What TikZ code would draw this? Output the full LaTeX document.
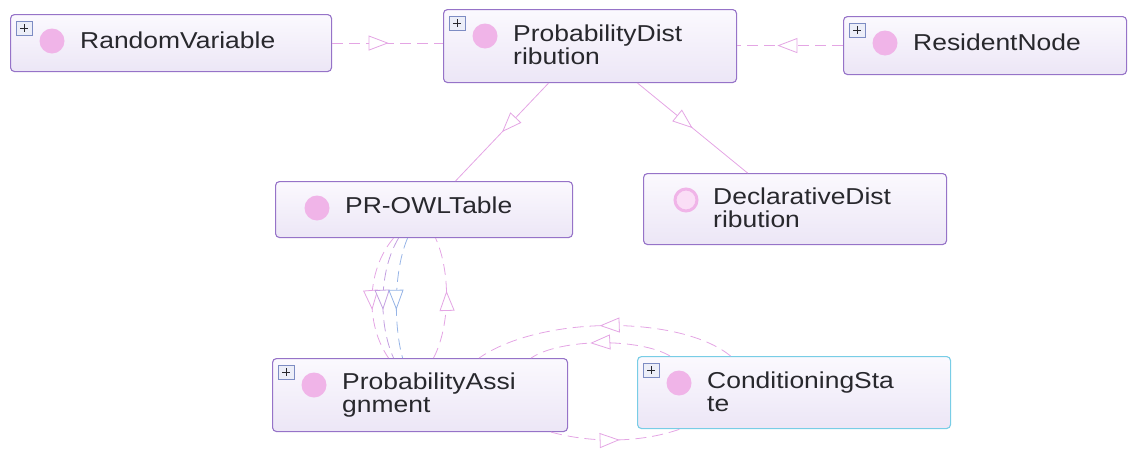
\documentclass[tikz,border=0pt]{standalone}
\usepackage{fontspec}
\newfontfamily\lblfont[FakeStretch=1.15]{Liberation Sans}
\usetikzlibrary{arrows.meta,decorations.markings,calc}

\definecolor{boxline}{RGB}{150,115,200}
\definecolor{boxtop}{RGB}{251,249,254}
\definecolor{boxbot}{RGB}{236,230,246}
\definecolor{selline}{RGB}{120,205,230}
\definecolor{dot}{RGB}{240,180,232}
\definecolor{dotlight}{RGB}{250,222,246}
\definecolor{lnk}{RGB}{228,165,228}
\definecolor{lnkblue}{RGB}{150,180,230}
\definecolor{lnklav}{RGB}{195,160,225}
\definecolor{plusline}{RGB}{125,140,195}
\definecolor{plusfill}{RGB}{236,238,248}
\definecolor{txt}{RGB}{40,40,45}

\tikzset{
  cls/.style n args={2}{draw=boxline, line width=1.1pt, rounded corners=4pt,
    top color=boxtop, bottom color=boxbot, anchor=north west, inner sep=0pt,
    minimum width=#1, minimum height=#2},
  lbl/.style={font=\lblfont\fontsize{23}{23}\selectfont, text=txt, inner sep=0pt, anchor=base west},
  conn/.style={draw=lnk, line width=0.8pt, dash pattern=on 11pt off 6pt},
  solidlnk/.style={draw=lnk, line width=0.8pt},
  mid/.style={postaction={decorate, decoration={markings,
    mark=at position #1 with {\arrow{Triangle[length=20pt, width=15pt, fill=white, line width=0.8pt]}}}}}
}

% class icon and optional expand box
\newcommand\clsdot[1]{\fill[dot] ($(#1.north west)+(42,27)$) circle (12.5pt);}
\newcommand\expandbox[1]{%
  \draw[plusline, line width=0.8pt, fill=plusfill] ($(#1.north west)+(6,7)$) rectangle +(16,14);
  \draw[txt, line width=1pt] ($(#1.north west)+(10,14)$) -- +(8,0)
        ($(#1.north west)+(14,10)$) -- +(0,8);}

\begin{document}
\begin{tikzpicture}[x=1pt, y=-1pt]
\useasboundingbox (0,0) rectangle (1128,469);

% class boxes
\node[cls={321pt}{57pt}] (rv)  at (10,14)  {};
\node[cls={293pt}{73pt}] (pd)  at (443,9)  {};
\node[cls={283pt}{58pt}] (rn)  at (843,16) {};
\node[cls={297pt}{56pt}] (tbl) at (275,181) {};
\node[cls={303pt}{71pt}] (dd)  at (643,173) {};
\node[cls={295pt}{73pt}] (pa)  at (272,358) {};
\node[cls={313pt}{72pt}, draw=selline] (cs) at (637,356) {};

% icons
\clsdot{rv} \clsdot{pd} \clsdot{rn} \clsdot{tbl} \clsdot{pa} \clsdot{cs}
\draw[dot, line width=3pt, fill=dotlight] ($(dd.north west)+(43,27)$) circle (11pt);
\expandbox{rv} \expandbox{pd} \expandbox{rn} \expandbox{pa} \expandbox{cs}

% labels
\node[lbl] (rv-l)  at ($(rv.north west)+(70,34)$)  {RandomVariable};
\node[lbl] (pd-l)  at ($(pd.north west)+(70,32)$)  {\begin{tabular}[t]{@{}l@{}}ProbabilityDist\\ribution\end{tabular}};
\node[lbl] (rn-l)  at ($(rn.north west)+(70,34)$)  {ResidentNode};
\node[lbl] (tbl-l) at ($(tbl.north west)+(70,32)$) {PR-OWLTable};
\node[lbl] (dd-l)  at ($(dd.north west)+(70,31)$)  {\begin{tabular}[t]{@{}l@{}}DeclarativeDist\\ribution\end{tabular}};
\node[lbl] (pa-l)  at ($(pa.north west)+(70,31)$)  {\begin{tabular}[t]{@{}l@{}}ProbabilityAssi\\gnment\end{tabular}};
\node[lbl] (cs-l)  at ($(cs.north west)+(70,32)$)  {\begin{tabular}[t]{@{}l@{}}ConditioningSta\\te\end{tabular}};

% top row links
\draw[conn, mid=0.51] (rv.east) -- (rv.east -| pd.west);
\draw[conn, mid=0.62] (rn.west) -- (rn.west -| pd.east);

% distribution subclasses
\draw[solidlnk, mid=0.5] ([xshift=-41.5pt]pd.south) -- ([xshift=31.5pt]tbl.north);
\draw[solidlnk, mid=0.5] ([xshift=47.5pt]pd.south) -- ([xshift=-47.5pt]dd.north);

% table <-> assignment
\draw[conn, mid=0.6] ([xshift=-30.5pt]tbl.south) .. controls +(-28,33) and +(-23,-33) .. ([xshift=-31.5pt]pa.north);
\draw[conn, draw=lnklav, mid=0.6] ([xshift=-25.5pt]tbl.south) .. controls +(-20,33) and +(-15,-33) .. ([xshift=-26.5pt]pa.north);
\draw[conn, draw=lnkblue, mid=0.6] ([xshift=-16.5pt]tbl.south) .. controls +(-14,33) and +(-9,-33) .. ([xshift=-17.5pt]pa.north);
\draw[conn, mid=0.56] ([xshift=13.5pt]pa.north) .. controls +(17,-33) and +(15,33) .. ([xshift=11.5pt]tbl.south);

% assignment <-> conditioning state
\draw[conn, mid=0.52] ([xshift=-63.5pt]cs.north) .. controls +(-50,-41) and +(62,-43) .. ([xshift=-89pt]pa.north east);
\draw[conn, mid=0.57] ([xshift=33pt]cs.north west) .. controls +(-30,-18) and +(30,-20) .. ([xshift=-37pt]pa.north east);
\draw[conn, mid=0.53] ([xshift=-17pt]pa.south east) .. controls +(40,11) and +(-40,14) .. ([xshift=43pt]cs.south west);
\end{tikzpicture}
\end{document}
